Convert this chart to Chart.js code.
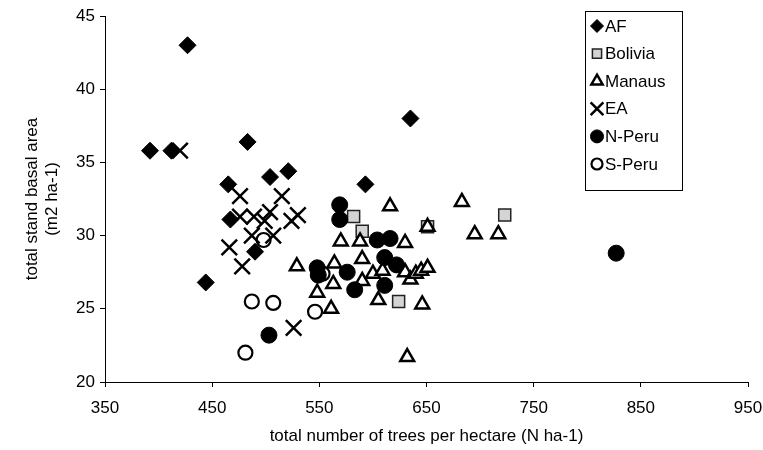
<!DOCTYPE html>
<html>
<head>
<meta charset="utf-8">
<script src="https://cdn.jsdelivr.net/npm/chart.js@4"></script>
<style>
  html, body { margin: 0; padding: 0; background: #fff; }
</style>
</head>
<body>
<canvas id="scatterChart" width="763" height="450"></canvas>
<script>
// Axis ticks
const xTicks = [350, 450, 550, 650, 750, 850, 950];
const yTicks = [20, 25, 30, 35, 40, 45];

// AF
const afX = [392, 412, 427, 444, 465, 467, 483, 490, 504, 521, 593, 635];
const afY = [35.8, 35.8, 43.0, 26.8, 33.5, 31.1, 36.4, 28.9, 34.0, 34.4, 33.5, 38.0];

// Bolivia
const bolX = [582, 590, 624, 651, 723];
const bolY = [31.3, 30.3, 25.5, 30.6, 31.4];

// Manaus
const manX = [529, 548, 561, 563, 564, 570, 588, 590, 590, 600, 605, 609, 616, 630, 630, 635, 632, 640, 645, 651, 646, 651, 683, 695, 717];
const manY = [27.9, 26.1, 25.0, 26.7, 28.1, 29.6, 29.6, 28.4, 26.9, 27.4, 25.6, 27.6, 32.0, 29.5, 27.5, 27.0, 21.7, 27.4, 27.6, 27.8, 25.3, 30.6, 32.3, 30.1, 30.1];

// EA
const eaX = [420, 476, 515, 476, 489, 504, 499, 530, 524, 487, 507, 466, 478, 526];
const eaY = [35.8, 32.7, 32.7, 31.3, 31.3, 31.6, 31.0, 31.4, 31.0, 30.0, 30.0, 29.2, 27.9, 23.7];

// N-Peru
const npX = [569, 569, 548, 549, 576, 583, 604, 616, 611, 622, 611, 503, 827];
const npY = [32.1, 31.1, 27.8, 27.3, 27.5, 26.3, 29.7, 29.8, 28.5, 28.0, 26.6, 23.2, 28.8];

// S-Peru
const spX = [498, 487, 507, 481, 546, 553];
const spY = [29.7, 25.5, 25.4, 22.0, 24.8, 27.4];

const toPoints = (xs, ys) => xs.map((x, i) => ({ x: x, y: ys[i] }));

const baseFont = { family: "'Liberation Sans', Arial, sans-serif", size: 17 };

// legend drawn inside the plot, boxed, top right
const legendBox = {
  id: "legendBox",
  afterDraw(chart) {
    const ctx = chart.ctx;
    const left = 585, top = 11, w = 97, h = 179;
    ctx.save();
    ctx.fillStyle = "#fff";
    ctx.fillRect(left, top, w, h);
    ctx.strokeStyle = "#000";
    ctx.lineWidth = 1;
    ctx.strokeRect(left + 0.5, top + 0.5, w, h);
    chart.data.datasets.forEach((ds, i) => {
      const y = top + 15 + i * 27.6;
      ctx.fillStyle = ds.backgroundColor;
      ctx.strokeStyle = ds.borderColor;
      ctx.lineWidth = ds.borderWidth;
      Chart.helpers.drawPoint(ctx, {
        pointStyle: ds.pointStyle,
        radius: ds.legendRadius,
        borderWidth: ds.borderWidth,
        rotation: 0
      }, left + 12, y);
      ctx.fillStyle = "#000";
      ctx.font = "17px 'Liberation Sans', Arial, sans-serif";
      ctx.textBaseline = "middle";
      ctx.fillText(ds.label, left + 20, y + 1);
    });
    ctx.restore();
  }
};

new Chart(document.getElementById("scatterChart"), {
  type: "scatter",
  data: {
    datasets: [
      { label: "AF", data: toPoints(afX, afY), pointStyle: "rectRot", pointRadius: 8.5, legendRadius: 6.5,
        backgroundColor: "#000", borderColor: "#000", borderWidth: 1, order: 1 },
      { label: "Bolivia", data: toPoints(bolX, bolY), pointStyle: "rect", pointRadius: 8.5, legendRadius: 6.5,
        backgroundColor: "#d4d4d4", borderColor: "#222", borderWidth: 1.5, order: 6 },
      { label: "Manaus", data: toPoints(manX, manY), pointStyle: "triangle", pointRadius: 8, legendRadius: 6.5,
        backgroundColor: "#fff", borderColor: "#000", borderWidth: 2.5, order: 5 },
      { label: "EA", data: toPoints(eaX, eaY), pointStyle: "crossRot", pointRadius: 11, legendRadius: 9,
        backgroundColor: "#000", borderColor: "#000", borderWidth: 2.5, order: 3 },
      { label: "N-Peru", data: toPoints(npX, npY), pointStyle: "circle", pointRadius: 8, legendRadius: 6.5,
        backgroundColor: "#000", borderColor: "#000", borderWidth: 1, order: 2 },
      { label: "S-Peru", data: toPoints(spX, spY), pointStyle: "circle", pointRadius: 7, legendRadius: 5.5,
        backgroundColor: "#fff", borderColor: "#000", borderWidth: 2.2, order: 4 }
    ]
  },
  options: {
    responsive: false,
    animation: false,
    layout: { padding: { left: 22, right: 15, top: 16, bottom: 3 } },
    plugins: { legend: { display: false }, tooltip: { enabled: false } },
    scales: {
      x: {
        type: "linear", min: 350, max: 950,
        afterBuildTicks: s => { s.ticks = xTicks.map(v => ({ value: v })); },
        afterFit: s => { s.height = 65; s.paddingLeft = 0; s.paddingRight = 0; },
        grid: { drawOnChartArea: false, tickLength: 5, color: "#000" },
        border: { color: "#000", width: 1 },
        ticks: { color: "#000", font: baseFont, padding: 11, maxRotation: 0 },
        title: { display: true, text: "total number of trees per hectare (N ha-1)", color: "#000",
          font: baseFont, padding: { top: 0, bottom: 0 } }
      },
      y: {
        type: "linear", min: 20, max: 45,
        afterBuildTicks: s => { s.ticks = yTicks.map(v => ({ value: v })); },
        afterFit: s => { s.width = 83; s.paddingTop = 0; s.paddingBottom = 0; },
        grid: { drawOnChartArea: false, tickLength: 5, color: "#000" },
        border: { color: "#000", width: 1 },
        ticks: { color: "#000", font: baseFont, padding: 5 },
        title: { display: true, text: ["total stand basal area", "(m2 ha-1)"], color: "#000",
          font: baseFont, padding: { top: 0, bottom: 0 } }
      }
    }
  },
  plugins: [legendBox]
});
</script>
</body>
</html>
